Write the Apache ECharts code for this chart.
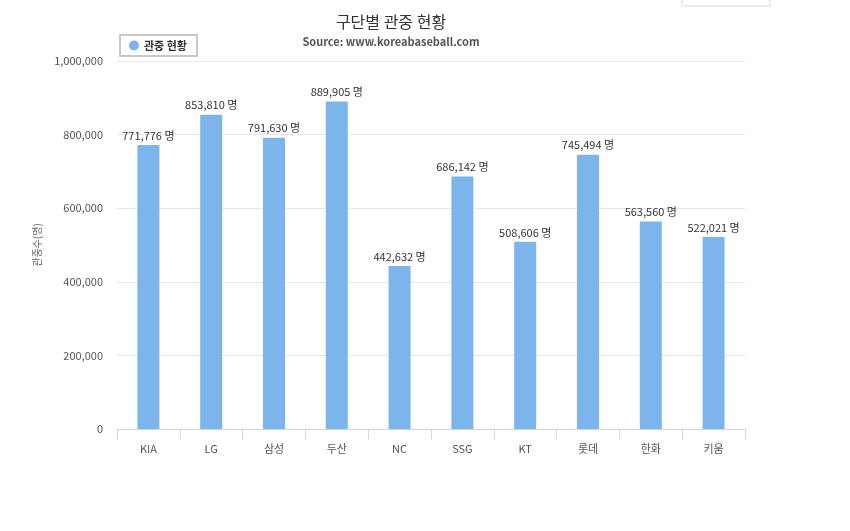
<!DOCTYPE html>
<html>
<head>
<meta charset="utf-8">
<script src="https://cdn.jsdelivr.net/npm/echarts@6/dist/echarts.min.js"></script>
<style>
  html, body { margin: 0; padding: 0; background: #fff; }
  #chart { width: 850px; height: 531px; }
</style>
</head>
<body>
<div id="chart"></div>
<script>
  // 구단별 관중 수
  const teams = ['KIA', 'LG', '삼성', '두산', 'NC', 'SSG', 'KT', '롯데', '한화', '키움'];
  const audience = [771776, 853810, 791630, 889905, 442632, 686142, 508606, 745494, 563560, 522021];
  const yTicks = [0, 200000, 400000, 600000, 800000, 1000000];

  const font = '"Noto Sans CJK KR", "Noto Sans", sans-serif';
  const myChart = echarts.init(document.getElementById('chart'));

  const option = {
    animation: false,
    textStyle: { fontFamily: font },
    title: {
      text: '구단별 관중 현황',
      subtext: 'Source: www.koreabaseball.com',
      left: 386,
      top: 9,
      textAlign: 'center',
      itemGap: 6,
      textStyle: { fontSize: 16, fontWeight: 'normal', color: '#333', fontFamily: font },
      subtextStyle: { fontSize: 11, fontWeight: 'bold', color: '#555', fontFamily: font }
    },
    legend: {
      left: 120,
      top: 35,
      padding: [5, 10, 5, 9],
      borderColor: '#c8c8c8',
      borderWidth: 2,
      backgroundColor: '#fff',
      icon: 'circle',
      itemWidth: 10,
      itemHeight: 10,
      itemGap: 6,
      textStyle: { fontSize: 11, fontWeight: 'bold', color: '#333', fontFamily: font },
      data: ['관중 현황']
    },
    graphic: [{
      type: 'rect',
      shape: { x: 682, y: -2, width: 88, height: 8 },
      style: { fill: '#fff', stroke: '#ddd', lineWidth: 1 }
    }],
    grid: { left: 117, right: 105, top: 61, bottom: 102 },
    xAxis: {
      type: 'category',
      data: teams,
      axisLine: { lineStyle: { color: '#ccd6eb' } },
      axisTick: { show: true, alignWithLabel: false, length: 10, lineStyle: { color: '#ccd6eb' } },
      axisLabel: { margin: 14, fontSize: 11, color: '#555', fontFamily: font }
    },
    yAxis: {
      type: 'value',
      min: 0,
      max: 1000000,
      interval: 200000,
      name: '관중수(명)',
      nameLocation: 'middle',
      nameGap: 75,
      nameTextStyle: { fontSize: 10, color: '#666', fontFamily: font },
      axisLine: { show: false },
      axisTick: { show: false },
      splitLine: { lineStyle: { color: '#e6e6e6' } },
      axisLabel: {
        margin: 14,
        fontSize: 11,
        color: '#555',
        fontFamily: font,
        formatter: function (v) { return yTicks.indexOf(v) >= 0 ? v.toLocaleString('en-US') : ''; }
      }
    },
    series: [{
      name: '관중 현황',
      type: 'bar',
      barWidth: 22,
      itemStyle: { color: '#7cb5ec' },
      label: {
        show: true,
        position: 'top',
        distance: 4,
        fontSize: 11,
        color: '#333',
        fontFamily: font,
        formatter: function (p) { return p.value.toLocaleString('en-US') + ' 명'; }
      },
      data: audience
    }]
  };
  myChart.setOption(option);
</script>
</body>
</html>
